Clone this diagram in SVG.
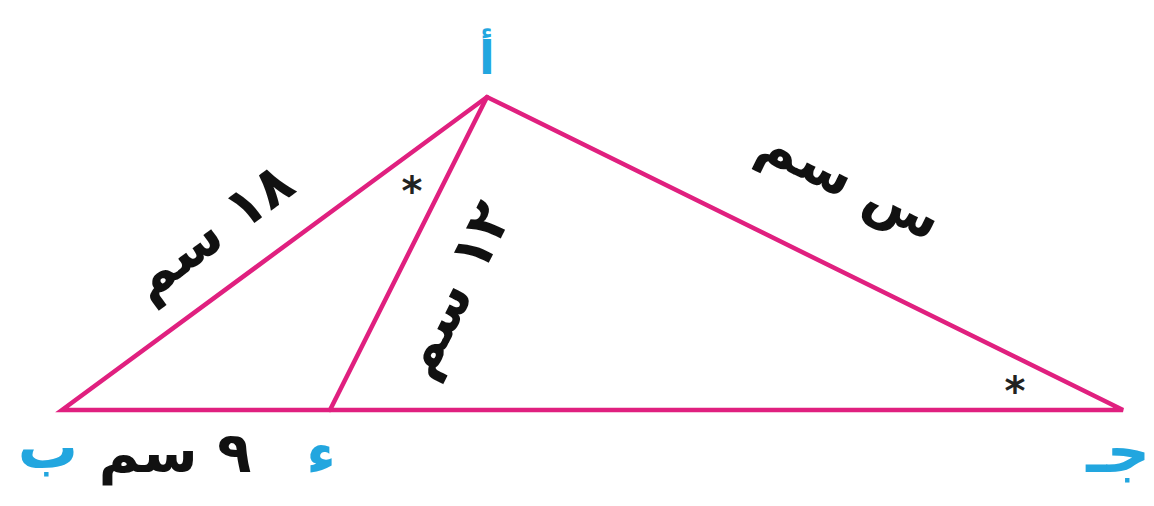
<svg xmlns="http://www.w3.org/2000/svg" width="1154" height="506" viewBox="0 0 1154 506">
<style>
.edge{stroke:#e0207f;stroke-width:4.5;fill:none;stroke-linejoin:miter;stroke-linecap:round}
.vl{font-family:"DejaVu Sans","Noto Sans",sans-serif;font-weight:bold;fill:#22a6df;text-anchor:middle}
.ml{font-family:"DejaVu Sans","Noto Sans",sans-serif;font-weight:bold;fill:#111;text-anchor:middle;font-size:56px}
.ast{font-family:"DejaVu Sans",sans-serif;font-weight:bold;fill:#222;text-anchor:middle;font-size:40px}
</style>
<rect width="1154" height="506" fill="#ffffff"/>
<g id="connectors">
<path class="edge" d="M62,410 L487,97 L1123,410 Z"/>
<path class="edge" d="M487,97 L330,410"/>
</g>
<g id="node-A"><text class="vl" x="487" y="74" font-size="46">أ</text></g>
<g id="node-B"><text class="vl" x="48" y="468" font-size="60">ب</text></g>
<g id="node-D"><text class="vl" x="321" y="474" font-size="58">ء</text></g>
<g id="node-C"><text class="vl" x="1118" y="472" font-size="60">جـ</text></g>
<g id="label-AB"><text class="ml" transform="translate(212,232) rotate(-36.4)" y="18">١٨ سم</text></g>
<g id="label-AD"><text class="ml" transform="translate(455,290) rotate(-63.4)" y="18">١٢ سم</text></g>
<g id="label-AC"><text class="ml" transform="translate(850,182) rotate(26.2)" y="18">س سم</text></g>
<g id="label-BD"><text class="ml" x="175" y="472">٩ سم</text></g>
<g id="angles">
<text class="ast" x="412" y="205">*</text>
<text class="ast" x="1015" y="405">*</text>
</g>
</svg>
